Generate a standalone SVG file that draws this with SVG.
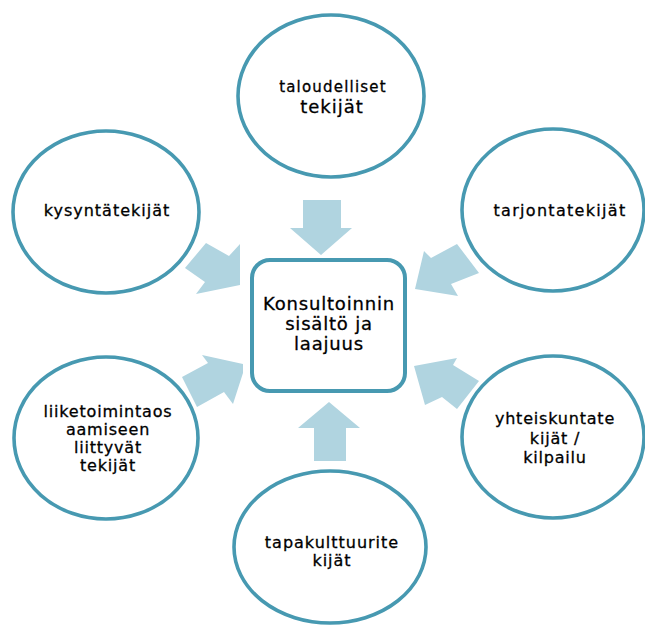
<svg xmlns="http://www.w3.org/2000/svg" width="645" height="628" viewBox="0 0 645 628">
<style>
  .bg { fill: #ffffff; }
  .circ { fill: #ffffff; stroke: #4799b1; stroke-width: 3.6; }
  .box { fill: #ffffff; stroke: #4799b1; stroke-width: 4; }
  .arrow { fill: #b0d4e0; stroke: none; }
  text { font-family: "DejaVu Sans", "Liberation Sans", sans-serif; fill: #000000; stroke: #000000; stroke-width: 0.3; text-anchor: middle; }
  .t16 { font-size: 16px; letter-spacing: 1px; }
  .t15 { font-size: 15px; letter-spacing: 1.2px; }
  .t18 { font-size: 18px; letter-spacing: 0.8px; }
</style>
<rect class="bg" x="0" y="0" width="645" height="628"/>

<g id="connectors">
  <polygon class="arrow" points="303,200 341,200 341,228 352,228 321,255 290,228 303,228"/>
  <polygon class="arrow" points="314,461 346,461 346,428 360,428 329,402 298,428 314,428"/>
  <polygon class="arrow" points="206,243 229,256 240,244 240,285 196,294 205,282 185,268"/>
  <polygon class="arrow" points="197,407 182,377 208,363 202,355 243,364 243,373 233,404 224,392"/>
  <polygon class="arrow" points="457,244 479,273 451,284 458,296 415,289 424,251 431,258"/>
  <polygon class="arrow" points="479,381 457,409 442,397 425,405 414,366 457,358 453,365"/>
</g>

<g id="node-center">
  <rect class="box" x="252" y="260" width="153" height="131" rx="18" ry="18"/>
  <text class="t18" x="329" y="310">Konsultoinnin</text>
  <text class="t18" x="329" y="330">sisältö ja</text>
  <text class="t18" x="329" y="350">laajuus</text>
</g>

<g id="node-taloudelliset">
  <ellipse class="circ" cx="331" cy="96" rx="93" ry="81"/>
  <text class="t15" x="333" y="92">taloudelliset</text>
  <text class="t18" x="332" y="113" style="letter-spacing:1px">tekijät</text>
</g>

<g id="node-kysynta">
  <ellipse class="circ" cx="106" cy="212" rx="93" ry="81"/>
  <text class="t16" x="107" y="216">kysyntätekijät</text>
</g>

<g id="node-tarjonta">
  <ellipse class="circ" cx="553" cy="210" rx="91" ry="81"/>
  <text class="t16" x="560" y="216" style="letter-spacing:1.3px">tarjontatekijät</text>
</g>

<g id="node-liiketoiminta">
  <ellipse class="circ" cx="106" cy="438" rx="92" ry="81"/>
  <text class="t16" x="108" y="417" style="letter-spacing:0.8px">liiketoimintaos</text>
  <text class="t16" x="108" y="435" style="letter-spacing:0.8px">aamiseen</text>
  <text class="t16" x="108" y="453" style="letter-spacing:0.8px">liittyvät</text>
  <text class="t16" x="108" y="471" style="letter-spacing:0.8px">tekijät</text>
</g>

<g id="node-yhteiskunta">
  <ellipse class="circ" cx="553" cy="437" rx="91" ry="81"/>
  <text class="t16" x="555" y="424" style="letter-spacing:0.8px">yhteiskuntate</text>
  <text class="t16" x="555" y="444" style="letter-spacing:0.8px">kijät /</text>
  <text class="t16" x="555" y="463" style="letter-spacing:0.8px">kilpailu</text>
</g>

<g id="node-tapakulttuuri">
  <ellipse class="circ" cx="330" cy="547" rx="96" ry="76"/>
  <text class="t16" x="332" y="548">tapakulttuurite</text>
  <text class="t16" x="332" y="566">kijät</text>
</g>
</svg>
